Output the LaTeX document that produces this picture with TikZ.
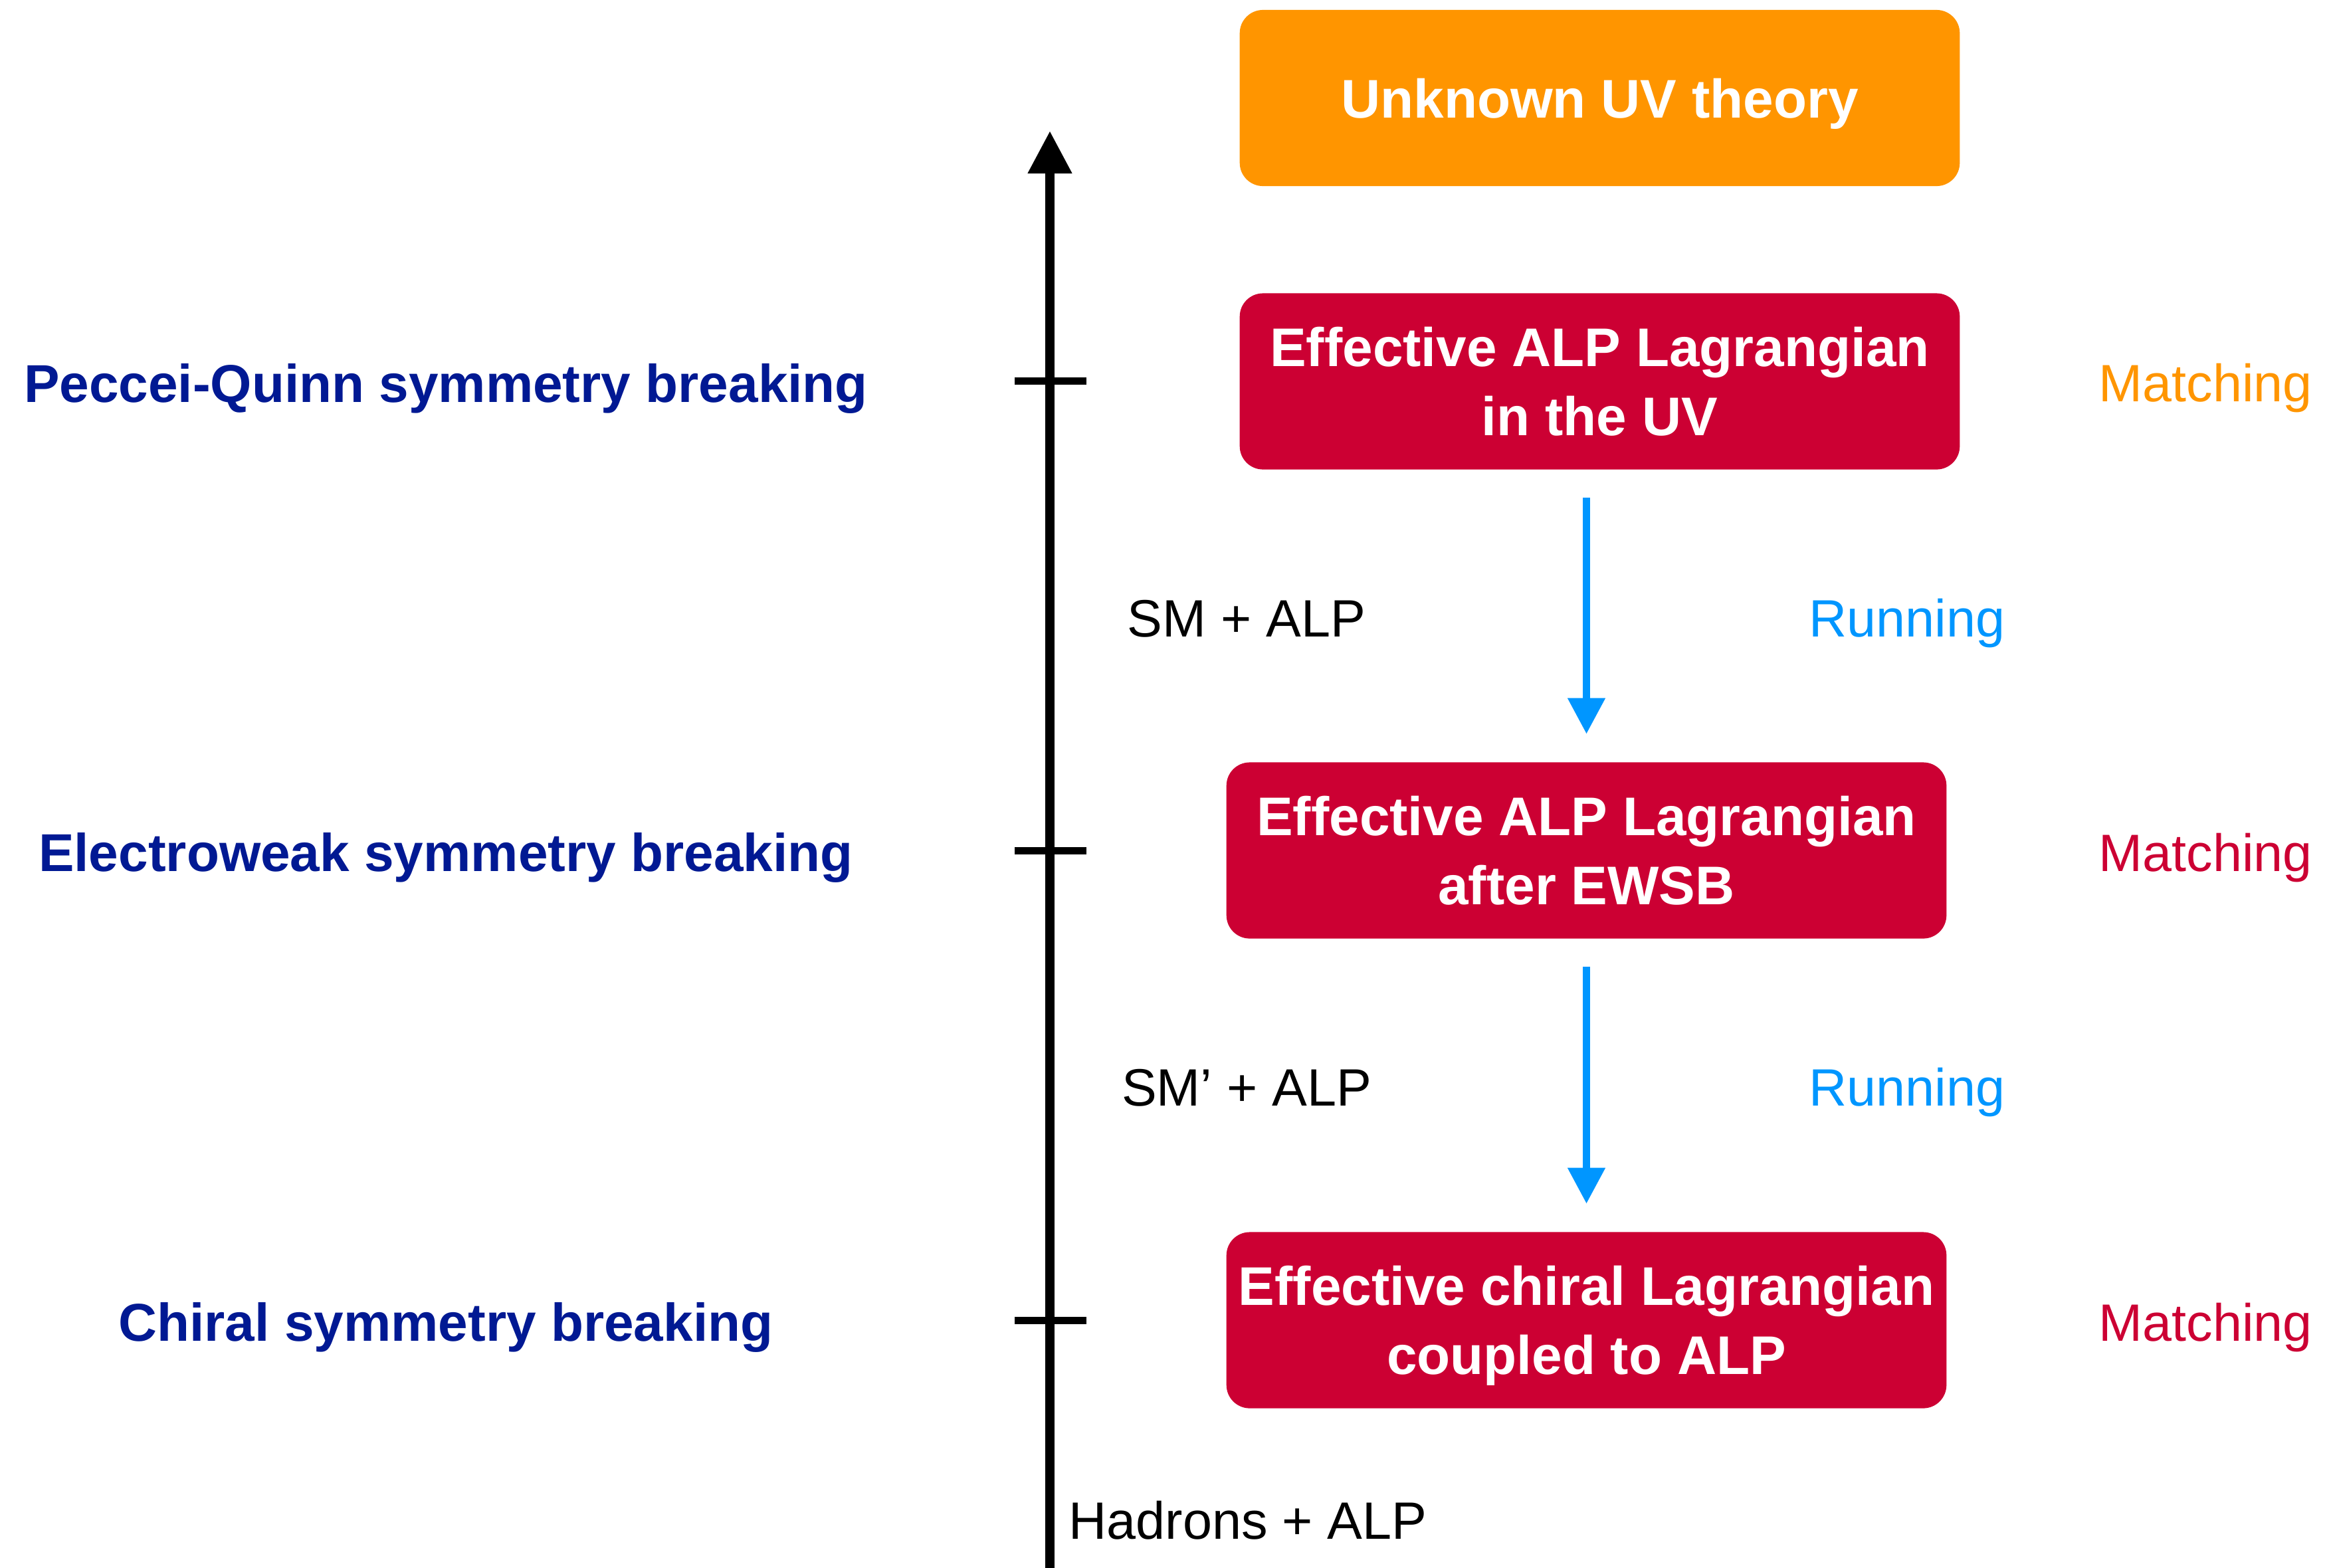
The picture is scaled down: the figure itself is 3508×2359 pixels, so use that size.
\documentclass[tikz,border=0pt]{standalone}
\usepackage{fontspec}
\setmainfont{Liberation Sans}
\usetikzlibrary{arrows.meta}
\definecolor{uvorange}{HTML}{FF9500}
\definecolor{efcrimson}{HTML}{CC0033}
\definecolor{runblue}{HTML}{0096FF}
\definecolor{scalenavy}{HTML}{011993}
\begin{document}
\begin{tikzpicture}[x=0.01cm,y=-0.01cm,
  stagebox/.style={fill=efcrimson, rounded corners=0.35cm, minimum width=10.83cm,
    minimum height=2.65cm, inner sep=0pt, text=white, align=center,
    font=\fontsize{23.3}{29.6}\selectfont\bfseries},
  scalelabel/.style={anchor=base, text=scalenavy, inner sep=0pt,
    font=\fontsize{22.8}{27}\selectfont\bfseries},
  steplabel/.style={anchor=base west, inner sep=0pt, font=\fontsize{22.5}{27}\selectfont},
  theorylabel/.style={anchor=base, inner sep=0pt, font=\fontsize{22.5}{27}\selectfont},
  runarrow/.style={draw=runblue, line width=0.11cm, shorten <=0.42cm, shorten >=0.42cm,
    -{Triangle[length=0.54cm,width=0.54cm]}},
  tickmark/.style={line width=0.11cm}]
\useasboundingbox (0,0) rectangle (3508,2359);

% energy axis
\coordinate (axbot) at (1580,2400);
\coordinate (axtop) at (1580,197);
\draw[line width=0.14cm, -{Triangle[length=0.64cm,width=0.63cm]}] (axbot) -- (axtop);
\coordinate (tick1) at (1580,573);
\coordinate (tick2) at (1580,1280);
\coordinate (tick3) at (1580,1987);
\foreach \t in {tick1,tick2,tick3}
  \draw[tickmark] ([xshift=-0.53cm]\t) -- ([xshift=0.55cm]\t);

% symmetry breaking scales
\node[scalelabel] (pq)   at (671,605)  {Peccei-Quinn symmetry breaking};
\node[scalelabel] (ewsb) at (671,1311) {Electroweak symmetry breaking};
\node[scalelabel] (chsb) at (671,2018) {Chiral symmetry breaking};

% theories between the scales
\node[theorylabel] (smalp)  at (1876,958)  {SM + ALP};
\node[theorylabel] (smpalp) at (1876,1664) {SM’ + ALP};
\node[theorylabel] (hadalp) at (1878,2316) {Hadrons + ALP};

% chain of effective theories
\node[stagebox, fill=uvorange, text depth=0pt] (uv) at (2407.5,147.5) {Unknown UV theory};
\node[stagebox] (alpuv)   at (2407.5,574)  {Effective ALP Lagrangian\\in the UV};
\node[stagebox] (alpew)   at (2387.5,1280) {Effective ALP Lagrangian\\after EWSB};
\node[stagebox, text depth=0pt] (chiral)  at (2387.5,1987) {Effective chiral Lagrangian\\coupled to ALP};

\draw[runarrow] (alpew.north |- alpuv.south) -- (alpew.north);
\draw[runarrow] (alpew.south) -- (chiral.north);

% procedure labels
\node[steplabel, text=runblue] (run1) at (2722,958)  {Running};
\node[steplabel, text=runblue] (run2) at (2722,1664) {Running};
\node[steplabel, text=uvorange]  (match1) at (3158,604)  {Matching};
\node[steplabel, text=efcrimson] (match2) at (3158,1311) {Matching};
\node[steplabel, text=efcrimson] (match3) at (3158,2018) {Matching};
\end{tikzpicture}
\end{document}
